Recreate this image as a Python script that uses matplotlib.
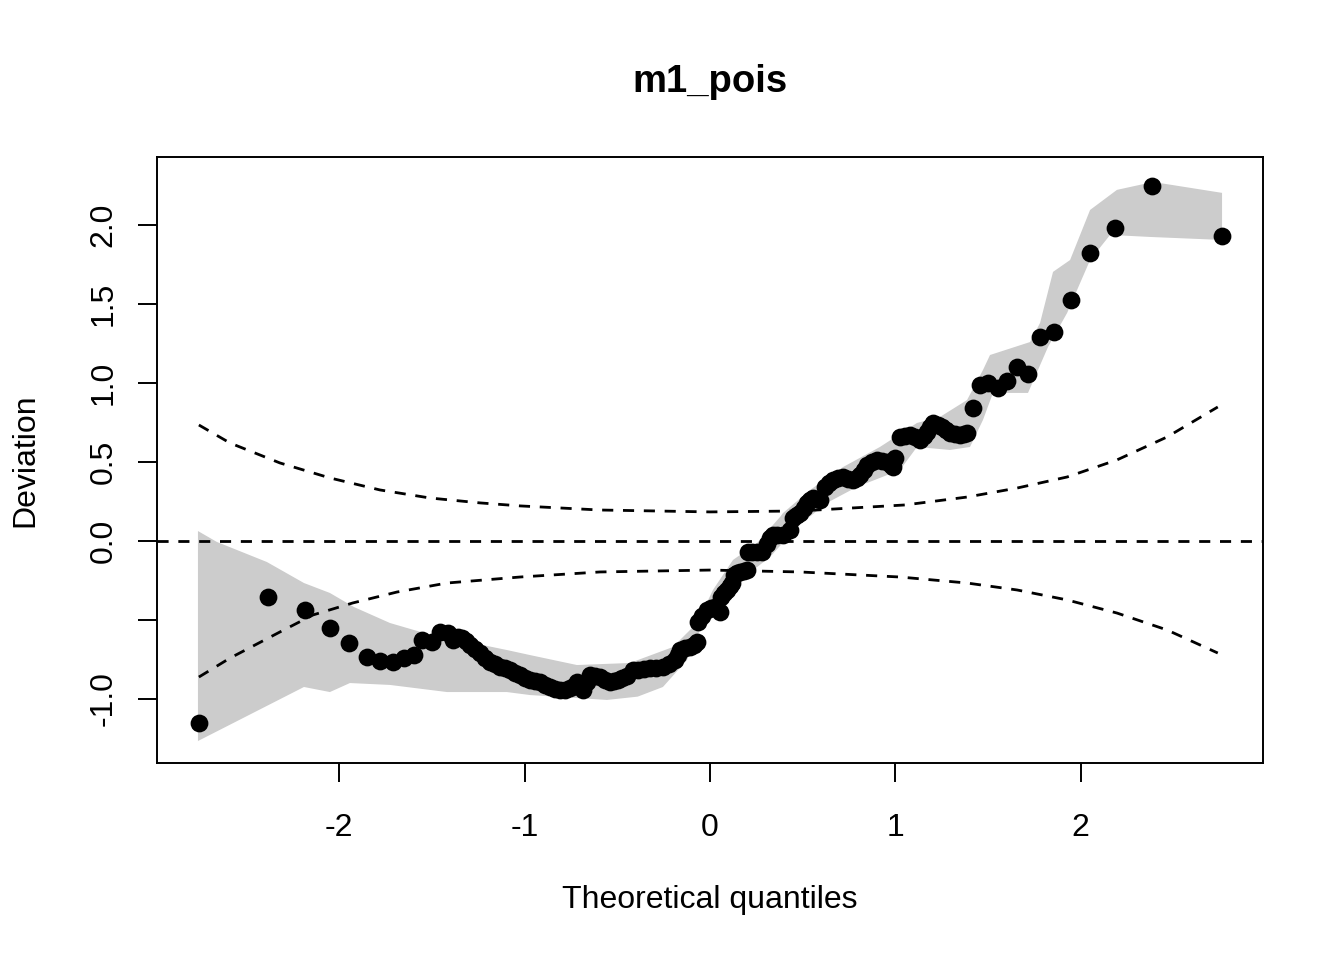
import numpy as np
import matplotlib
matplotlib.use("Agg")
from matplotlib import pyplot as plt

plt.rcParams['font.family'] = ['Liberation Sans', 'DejaVu Sans']

# worm points (theoretical quantile, deviation)
qx = [-2.758, -2.385, -2.186, -2.051, -1.948, -1.851, -1.781, -1.711, -1.651, -1.597,
      -1.554, -1.500, -1.457, -1.414, -1.387, -1.360, -1.338, -1.317, -1.295, -1.268,
      -1.241, -1.214, -1.187, -1.160, -1.133, -1.106, -1.079, -1.052, -1.025, -0.998,
      -0.971, -0.944, -0.917, -0.890, -0.863, -0.836, -0.810, -0.783, -0.756, -0.734,
      -0.718, -0.702, -0.685, -0.664, -0.648, -0.621, -0.594, -0.567, -0.540, -0.518,
      -0.497, -0.475, -0.448, -0.416, -0.389, -0.356, -0.324, -0.291, -0.254, -0.221,
      -0.189, -0.173, -0.162, -0.135, -0.108, -0.086, -0.070, -0.065, -0.043, -0.016,
      0.005, 0.027, 0.054, 0.059, 0.076, 0.092, 0.108, 0.119, 0.130, 0.146,
      0.162, 0.183, 0.200, 0.205, 0.227, 0.254, 0.281, 0.308, 0.324, 0.340,
      0.362, 0.394, 0.432, 0.448, 0.470, 0.486, 0.507, 0.523, 0.540, 0.556,
      0.577, 0.594, 0.621, 0.642, 0.664, 0.691, 0.718, 0.745, 0.772, 0.793,
      0.810, 0.831, 0.847, 0.874, 0.901, 0.928, 0.955, 0.977, 0.988, 0.998,
      1.025, 1.052, 1.079, 1.106, 1.133, 1.155, 1.171, 1.187, 1.203, 1.230,
      1.252, 1.274, 1.295, 1.322, 1.349, 1.371, 1.387, 1.419, 1.457, 1.500,
      1.554, 1.603, 1.657, 1.716, 1.781, 1.856, 1.948, 2.051, 2.186, 2.385,
      2.763]
dev = [-1.152, -0.354, -0.437, -0.551, -0.646, -0.734, -0.759, -0.766, -0.741, -0.722,
       -0.627, -0.639, -0.576, -0.582, -0.627, -0.608, -0.614, -0.633, -0.658, -0.684,
       -0.709, -0.741, -0.766, -0.778, -0.797, -0.804, -0.816, -0.835, -0.848, -0.867,
       -0.880, -0.886, -0.892, -0.911, -0.924, -0.937, -0.943, -0.943, -0.930, -0.918,
       -0.892, -0.918, -0.943, -0.892, -0.848, -0.854, -0.861, -0.880, -0.892, -0.886,
       -0.880, -0.867, -0.854, -0.816, -0.816, -0.810, -0.804, -0.804, -0.797, -0.778,
       -0.753, -0.722, -0.690, -0.677, -0.671, -0.658, -0.639, -0.513, -0.475, -0.437,
       -0.424, -0.418, -0.449, -0.354, -0.329, -0.310, -0.285, -0.266, -0.215, -0.203,
       -0.196, -0.190, -0.184, -0.070, -0.070, -0.070, -0.070, -0.020, 0.019, 0.038,
       0.038, 0.038, 0.070, 0.146, 0.165, 0.177, 0.209, 0.241, 0.259, 0.272,
       0.266, 0.259, 0.342, 0.367, 0.386, 0.399, 0.405, 0.392, 0.386, 0.399,
       0.418, 0.449, 0.481, 0.500, 0.513, 0.506, 0.500, 0.481, 0.468, 0.525,
       0.658, 0.665, 0.671, 0.658, 0.639, 0.665, 0.690, 0.722, 0.747, 0.734,
       0.722, 0.703, 0.684, 0.677, 0.671, 0.677, 0.684, 0.842, 0.987, 1.000,
       0.968, 1.013, 1.101, 1.057, 1.291, 1.323, 1.525, 1.823, 1.981, 2.247,
       1.930]

# grey simulation band
band_up_x = [-2.763, -2.661, -2.391, -2.191, -2.051, -1.921, -1.727, -1.543, -1.096, -0.971,
             -0.718, -0.432, -0.200, -0.070, 0.016, 0.124, 0.254, 0.378, 0.394, 0.540,
             0.718, 0.917, 1.117, 1.241, 1.387, 1.473, 1.511, 1.727, 1.781, 1.851,
             1.943, 2.051, 2.196, 2.391, 2.763]
band_up_y = [0.063, -0.006, -0.133, -0.266, -0.329, -0.418, -0.519, -0.582, -0.690, -0.722,
             -0.785, -0.772, -0.671, -0.519, -0.310, -0.120, -0.013, 0.152, 0.177, 0.323,
             0.468, 0.595, 0.747, 0.785, 0.892, 1.082, 1.177, 1.259, 1.380, 1.703,
             1.778, 2.095, 2.222, 2.272, 2.203]
band_lo_x = [-2.763, -2.191, -2.051, -1.943, -1.727, -1.419, -1.096, -0.971, -0.556, -0.390,
             -0.254, -0.124, -0.054, 0.054, 0.162, 0.254, 0.324, 0.470, 0.631, 0.793,
             1.025, 1.117, 1.295, 1.403, 1.473, 1.527, 1.716, 1.824, 1.927, 2.051,
             2.159, 2.375, 2.763]
band_lo_y = [-1.266, -0.924, -0.956, -0.899, -0.911, -0.956, -0.956, -0.975, -1.006, -0.985,
             -0.924, -0.753, -0.563, -0.392, -0.247, -0.165, -0.101, 0.089, 0.241, 0.342,
             0.449, 0.595, 0.576, 0.595, 0.766, 0.937, 0.937, 1.228, 1.443, 1.778,
             1.937, 1.924, 1.905]

# dashed reference curves
ci_up_x = [-2.758, -2.590, -2.321, -2.051, -1.781, -1.511, -1.241, -1.025, -0.594, 0.0,
           0.486, 1.052, 1.387, 1.657, 1.927, 2.196, 2.466, 2.740]
ci_up_y = [0.734, 0.620, 0.494, 0.399, 0.323, 0.272, 0.241, 0.222, 0.196, 0.184,
           0.190, 0.228, 0.278, 0.335, 0.405, 0.513, 0.658, 0.848]
ci_lo_x = [-2.758, -2.590, -2.321, -2.142, -1.927, -1.689, -1.419, -1.025, -0.594, 0.0,
           0.486, 1.025, 1.387, 1.657, 1.927, 2.196, 2.466, 2.740]
ci_lo_y = [-0.861, -0.741, -0.576, -0.468, -0.392, -0.323, -0.266, -0.228, -0.196, -0.184,
           -0.196, -0.228, -0.266, -0.310, -0.373, -0.456, -0.563, -0.709]

xticks = [-2, -1, 0, 1, 2]
yticks = [-1.0, -0.5, 0.0, 0.5, 1.0, 1.5, 2.0]
ytick_labels = ["-1.0", "", "0.0", "0.5", "1.0", "1.5", "2.0"]

fig = plt.figure(figsize=(13.44, 9.6), dpi=100)
ax = fig.add_axes([157/1344, 1-763/960, (1263-157)/1344, (763-157)/960])

poly_x = np.concatenate([band_up_x, band_lo_x[::-1]])
poly_y = np.concatenate([band_up_y, band_lo_y[::-1]])
ax.fill(poly_x, poly_y, color="#cccccc", lw=0, zorder=1)

dash = (0, (4, 3.5))
ax.axhline(0, color="black", lw=2.0, linestyle=dash, zorder=2)
ax.plot(ci_up_x, ci_up_y, color="black", lw=2.0, linestyle=dash, zorder=2)
ax.plot(ci_lo_x, ci_lo_y, color="black", lw=2.0, linestyle=dash, zorder=2)

ax.plot(qx, dev, "o", color="black", ms=12.8, mew=0, zorder=3)

ax.set_xlim(-2.984, 2.984)
ax.set_ylim(-1.405, 2.430)
ax.set_xticks(xticks)
ax.set_xticklabels([str(t) for t in xticks])
ax.set_yticks(yticks)
ax.set_yticklabels(ytick_labels, rotation=90, va="center")
ax.tick_params(axis="both", length=13.7, width=1.4, labelsize=23)
ax.tick_params(axis="x", pad=22)
ax.tick_params(axis="y", pad=14)
for s in ax.spines.values():
    s.set_linewidth(1.4)

fig.text(710/1344, 1-900/960, "Theoretical quantiles", ha="center", va="center", fontsize=23)
fig.text(25/1344, 1-460/960, "Deviation", ha="center", va="center", rotation=90, fontsize=23)
fig.text(710/1344, 1-82/960, "m1_pois", ha="center", va="center", fontsize=27.5, fontweight="bold")

fig.savefig("out.png", dpi=100)
